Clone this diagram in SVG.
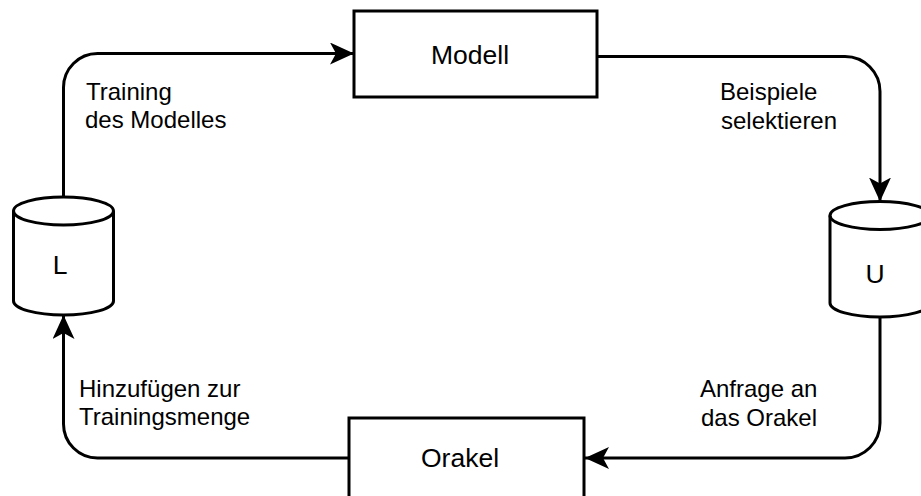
<svg xmlns="http://www.w3.org/2000/svg" width="921" height="496" viewBox="0 0 921 496">
  <style>
    .shape { fill: #ffffff; stroke: #000000; stroke-width: 3; }
    .edge { fill: none; stroke: #000000; stroke-width: 3; marker-end: url(#arrow); }
    .node-label { font-family: "Liberation Sans", Arial, sans-serif; font-size: 26.5px; fill: #000000; text-anchor: middle; }
    .edge-label { font-family: "Liberation Sans", Arial, sans-serif; font-size: 24px; fill: #000000; }
  </style>
  <defs>
    <marker id="arrow" viewBox="0 0 24 22" refX="24" refY="11" markerWidth="24" markerHeight="22" markerUnits="userSpaceOnUse" orient="auto">
      <path d="M0,0 L24,11 L0,22 L6,11 Z" fill="#000000"/>
    </marker>
  </defs>
  <rect width="921" height="496" fill="#ffffff"/>

  <!-- connectors of the learning cycle -->
  <g id="connectors">
    <path class="edge" d="M63.5,197 V87.5 A34,34 0 0 1 97.5,53.5 H354"/>
    <path class="edge" d="M597,56.5 H845 A35,35 0 0 1 880,91.5 V201.5"/>
    <path class="edge" d="M880,317 V423 A35,35 0 0 1 845,458 H585"/>
    <path class="edge" d="M349,458 H97.5 A34,34 0 0 1 63.5,424 V315"/>
  </g>

  <!-- model -->
  <g id="node-modell">
    <rect class="shape" x="354" y="11" width="243" height="86"/>
    <text class="node-label" x="470" y="64">Modell</text>
  </g>

  <!-- unlabeled pool -->
  <g id="node-u">
    <path class="shape" d="M830,215.5 V303 A50,14 0 0 0 930,303 V215.5 A50,14 0 0 0 830,215.5 Z"/>
    <path class="shape" style="fill:none" d="M830,215.5 A50,14 0 0 0 930,215.5"/>
    <text class="node-label" x="875" y="283">U</text>
  </g>

  <!-- oracle -->
  <g id="node-orakel">
    <rect class="shape" x="349" y="418" width="235" height="90"/>
    <text class="node-label" x="460" y="467">Orakel</text>
  </g>

  <!-- labeled set -->
  <g id="node-l">
    <path class="shape" d="M13.5,211 V301 A50,14 0 0 0 113.5,301 V211 A50,14 0 0 0 13.5,211 Z"/>
    <path class="shape" style="fill:none" d="M13.5,211 A50,14 0 0 0 113.5,211"/>
    <text class="node-label" x="60" y="274">L</text>
  </g>

  <!-- connector labels -->
  <g id="labels">
    <text class="edge-label" x="86" y="100">Training</text>
    <text class="edge-label" x="85" y="128">des Modelles</text>
    <text class="edge-label" x="720" y="100">Beispiele</text>
    <text class="edge-label" x="721" y="129">selektieren</text>
    <text class="edge-label" x="700" y="397">Anfrage an</text>
    <text class="edge-label" x="701" y="426">das Orakel</text>
    <text class="edge-label" x="79" y="397">Hinzufügen zur</text>
    <text class="edge-label" x="79" y="425">Trainingsmenge</text>
  </g>
</svg>
